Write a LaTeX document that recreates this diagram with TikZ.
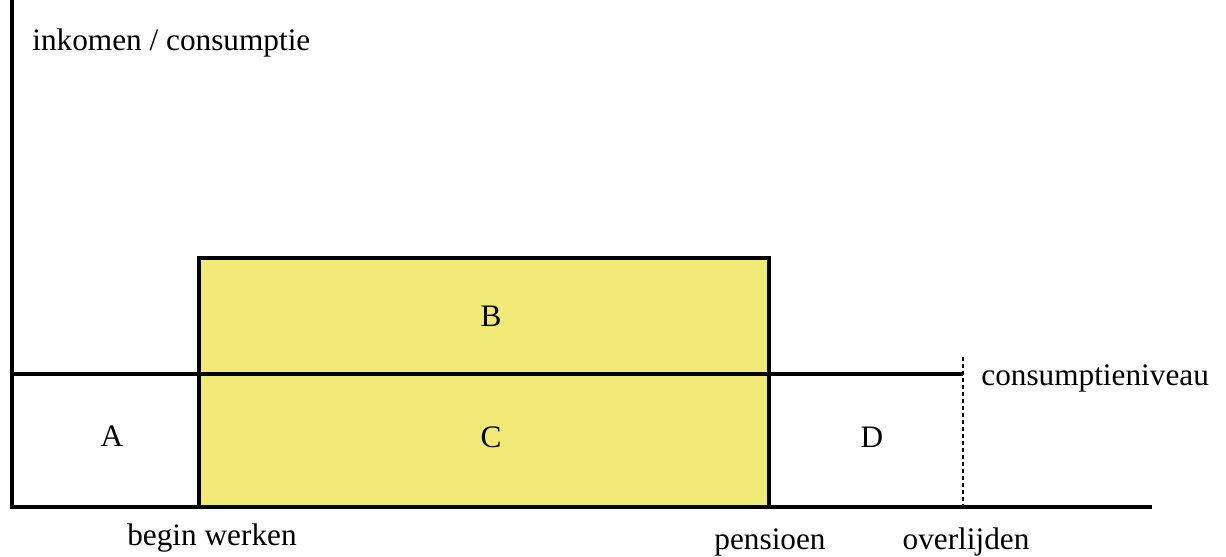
\documentclass[tikz,border=0pt]{standalone}
\usepackage{fontspec}
\setmainfont{Liberation Serif}
\usetikzlibrary{positioning}
\usepackage{xcolor}
\definecolor{yellowBox}{RGB}{240,233,117}

\begin{document}
\begin{tikzpicture}[
    x=0.02cm, y=-0.02cm,
    lbl/.style={inner sep=0pt, font=\fontsize{17.8}{21}\selectfont},
    axis/.style={line width=1.8pt},
    deathline/.style={line width=1.6pt, dash pattern=on 0.08cm off 0.06cm}
]
\useasboundingbox (0,0) rectangle (1226,556);

\coordinate (ytop) at (12,0);
\coordinate (origin) at (12,507);
\coordinate (xend) at (1152,507);
\coordinate (work) at (199,507);
\coordinate (worktop) at (199,258);
\coordinate (retire) at (769,507);
\coordinate (retiretop) at (769,258);
\coordinate (death) at (963,507);
\coordinate (deathtop) at (963,357);
\coordinate (cstart) at (12,374);
\coordinate (cend) at (963,374);

\fill[yellowBox] (work) rectangle (retiretop);
\draw[axis] (work) -- (worktop) -- (retiretop) -- (retire);
\draw[axis] (cstart) -- (cend);
\draw[deathline] (deathtop) -- (death);
\draw[axis] (ytop) -- (origin) -- (xend);

\node[lbl, anchor=base west] (yname) at (32,50) {inkomen / consumptie};
\node[lbl, anchor=base west] (cname) at (981,385) {consumptieniveau};
\node[lbl] (areaA) at (112,436) {A};
\node[lbl] (areaB) at (491,316) {B};
\node[lbl] (areaC) at (491,437) {C};
\node[lbl] (areaD) at (872,437) {D};
\node[lbl, anchor=base] (tbegin) at (212,545) {begin werken};
\node[lbl, anchor=base] (tpens) at (770,549) {pensioen};
\node[lbl, anchor=base] (tdeath) at (966,549) {overlijden};
\end{tikzpicture}
\end{document}
